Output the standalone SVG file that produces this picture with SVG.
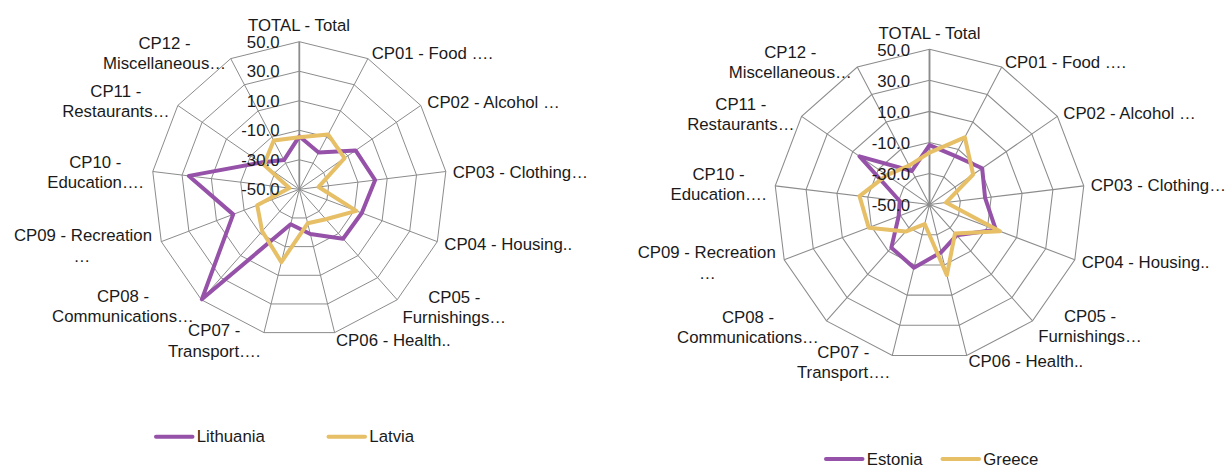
<svg xmlns="http://www.w3.org/2000/svg" xmlns:xlink="http://www.w3.org/1999/xlink" width="1228" height="467" viewBox="0 0 1228 467">
<style>
text { font-family: "Liberation Sans", Arial, sans-serif; font-size: 16.8px; fill: #1a1a1a; }
.m { text-anchor: middle; }
.e { text-anchor: end; }
.ring { fill: none; stroke: #8c8c8c; stroke-width: 1; }
.axis { fill: none; stroke: #8c8c8c; stroke-width: 1.8; }
.s1 { fill: none; stroke: #9552A8; stroke-width: 4; stroke-linejoin: round; }
.s2 { fill: none; stroke: #E6BF66; stroke-width: 4; stroke-linejoin: round; }
.l1 { stroke: #9552A8; stroke-width: 4; stroke-linecap: round; }
.l2 { stroke: #E6BF66; stroke-width: 4; stroke-linecap: round; }
</style>
<defs>
<g id="grid">
<polygon class="ring" points="0,-29.52 13.72,-26.14 24.29,-16.77 29.30,-3.56 27.60,10.47 19.58,22.10 7.06,28.66 -7.06,28.66 -19.58,22.10 -27.60,10.47 -29.30,-3.56 -24.29,-16.77 -13.72,-26.14"/>
<polygon class="ring" points="0,-59.04 27.44,-52.28 48.59,-33.54 58.61,-7.12 55.20,20.94 39.15,44.19 14.13,57.32 -14.13,57.32 -39.15,44.19 -55.20,20.94 -58.61,-7.12 -48.59,-33.54 -27.44,-52.28"/>
<polygon class="ring" points="0,-88.56 41.16,-78.42 72.88,-50.31 87.91,-10.67 82.80,31.40 58.73,66.29 21.19,85.99 -21.19,85.99 -58.73,66.29 -82.80,31.40 -87.91,-10.67 -72.88,-50.31 -41.16,-78.42"/>
<polygon class="ring" points="0,-118.08 54.87,-104.55 97.18,-67.08 117.22,-14.23 110.41,41.87 78.30,88.38 28.26,114.65 -28.26,114.65 -78.30,88.38 -110.41,41.87 -117.22,-14.23 -97.18,-67.08 -54.87,-104.55"/>
<polygon class="ring" points="0,-147.6 68.59,-130.69 121.47,-83.85 146.52,-17.79 138.01,52.34 97.88,110.48 35.32,143.31 -35.32,143.31 -97.88,110.48 -138.01,52.34 -146.52,-17.79 -121.47,-83.85 -68.59,-130.69"/>
<path class="ring" d="M0,0L68.59,-130.69M0,0L121.47,-83.85M0,0L146.52,-17.79M0,0L138.01,52.34M0,0L97.88,110.48M0,0L35.32,143.31M0,0L-35.32,143.31M0,0L-97.88,110.48M0,0L-138.01,52.34M0,0L-146.52,-17.79M0,0L-121.47,-83.85M0,0L-68.59,-130.69"/>
<path class="axis" d="M0,0V-147.6"/>
</g>
</defs>
<rect x="0" y="0" width="1228" height="467" fill="#ffffff"/>

<g id="chart-left">
<use xlink:href="#grid" href="#grid" transform="translate(299.3,189.3)"/>
<g id="series-left" transform="translate(299.3,189.3)">
<polygon id="lithuania" class="s1" points="0,-53 19.33,-36.84 56.29,-38.86 75.84,-9.21 62.46,23.69 43.77,49.40 11.01,44.66 -8.62,34.95 -97.48,110.03 -66.11,25.07 -110.39,-13.40 -38.68,-26.70 -15.34,-29.22"/>
<polygon id="latvia" class="s2" points="0,-52 28.81,-54.90 45.26,-31.24 19.36,-2.35 57.04,21.63 26.52,29.94 8.38,33.98 -17.95,72.82 -37.13,41.92 -42.08,15.96 -9.93,-1.21 -35.39,-24.43 -25.56,-48.70"/>
</g>
<g id="ticks-left">
<text class="e" x="279.5" y="47.7">50.0</text>
<text class="e" x="279.5" y="77.2">30.0</text>
<text class="e" x="279.5" y="106.7">10.0</text>
<text class="e" x="279.5" y="136.2">-10.0</text>
<text class="e" x="279.5" y="165.8">-30.0</text>
<text class="e" x="279.5" y="195.3">-50.0</text>
</g>
<g id="labels-left">
<text class="m" x="299" y="30.5">TOTAL - Total</text>
<text x="371.7" y="59.3">CP01 - Food ….</text>
<text x="427.3" y="107.7">CP02 - Alcohol …</text>
<text x="452.7" y="177.5">CP03 - Clothing…</text>
<text x="444.3" y="250.3">CP04 - Housing..</text>
<text class="m" x="454.3" y="302.5">CP05 -</text>
<text class="m" x="454.3" y="322.5">Furnishings…</text>
<text x="336" y="346">CP06 - Health..</text>
<text class="m" x="214.2" y="336">CP07 -</text>
<text class="m" x="214.2" y="356.5">Transport….</text>
<text class="m" x="123" y="302.3">CP08 -</text>
<text class="m" x="123" y="322.3">Communications…</text>
<text class="m" x="83" y="241">CP09 - Recreation</text>
<text class="m" x="82" y="261.5">…</text>
<text class="m" x="95.3" y="167.5">CP10 -</text>
<text class="m" x="95.3" y="187.5">Education….</text>
<text class="m" x="115.8" y="96.8">CP11 -</text>
<text class="m" x="115.8" y="117">Restaurants…</text>
<text class="m" x="164.5" y="49">CP12 -</text>
<text class="m" x="164.5" y="69">Miscellaneous…</text>
</g>
<g id="legend-left">
<line class="l1" x1="156" y1="436.7" x2="192.5" y2="436.7"/>
<text x="196.7" y="442.3">Lithuania</text>
<line class="l2" x1="328.5" y1="436.7" x2="365" y2="436.7"/>
<text x="369.3" y="442.3">Latvia</text>
</g>
</g>

<g id="chart-right">
<use xlink:href="#grid" href="#grid" transform="translate(929.5,204.6) scale(1.0528)"/>
<g id="series-right" transform="translate(929.5,204.6)">
<polygon id="estonia" class="s1" points="0,-59.5 25.56,-48.70 52.67,-36.36 55.59,-6.75 66.39,25.18 27.19,30.69 11.73,47.58 -15.56,63.11 -38.13,43.04 -30.86,11.70 -29.78,-3.62 -69.95,-48.29 -17.66,-33.65"/>
<polygon id="greece" class="s2" points="0,-52 35.32,-67.29 43.62,-30.11 16.48,-2.00 70.41,26.70 25.53,28.82 17.37,70.49 -4.79,19.42 -23.87,26.95 -60.78,23.05 -69.99,-8.50 -42.79,-29.54 -20.45,-38.96"/>
</g>
<g id="ticks-right">
<text class="e" x="910" y="56">50.0</text>
<text class="e" x="910" y="86.8">30.0</text>
<text class="e" x="910" y="117.9">10.0</text>
<text class="e" x="910" y="149">-10.0</text>
<text class="e" x="910" y="180">-30.0</text>
<text class="e" x="910" y="211.1">-50.0</text>
</g>
<g id="labels-right">
<text class="m" x="929.5" y="38.5">TOTAL - Total</text>
<text x="1005" y="67.5">CP01 - Food ….</text>
<text x="1063.3" y="119.3">CP02 - Alcohol …</text>
<text x="1090.7" y="191">CP03 - Clothing…</text>
<text x="1081.7" y="267.7">CP04 - Housing..</text>
<text class="m" x="1090" y="322">CP05 -</text>
<text class="m" x="1090" y="342">Furnishings…</text>
<text x="968.5" y="367">CP06 - Health..</text>
<text class="m" x="843.3" y="357.5">CP07 -</text>
<text class="m" x="843.3" y="377.5">Transport….</text>
<text class="m" x="748" y="322.5">CP08 -</text>
<text class="m" x="748" y="342.5">Communications…</text>
<text class="m" x="706.7" y="258">CP09 - Recreation</text>
<text class="m" x="707.3" y="278.5">…</text>
<text class="m" x="718.5" y="179.5">CP10 -</text>
<text class="m" x="718.5" y="200">Education….</text>
<text class="m" x="740.8" y="110">CP11 -</text>
<text class="m" x="740.8" y="130">Restaurants…</text>
<text class="m" x="790.3" y="57.5">CP12 -</text>
<text class="m" x="790.3" y="78">Miscellaneous…</text>
</g>
<g id="legend-right">
<line class="l1" x1="826" y1="459" x2="862.5" y2="459"/>
<text x="866.7" y="465">Estonia</text>
<line class="l2" x1="942.5" y1="459" x2="979" y2="459"/>
<text x="983.3" y="465">Greece</text>
</g>
</g>
<g id="connectors"/>
</svg>
